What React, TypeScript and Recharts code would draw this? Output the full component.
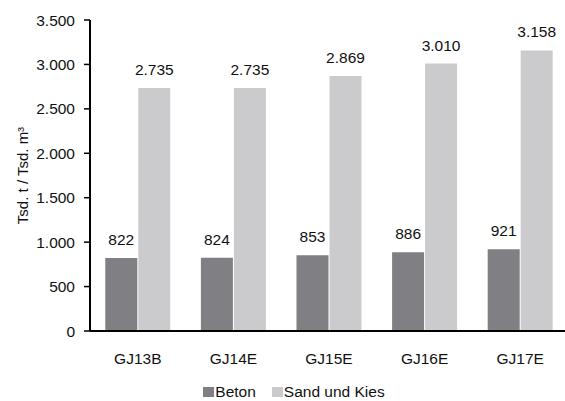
import React from "react";
import {
  BarChart,
  Bar,
  XAxis,
  YAxis,
  Legend,
  LabelList,
  Label,
} from "recharts";

// Jahresmengen je Szenario (Tsd. t / Tsd. m³)
const categories = ["GJ13B", "GJ14E", "GJ15E", "GJ16E", "GJ17E"];
const betonValues = [822, 824, 853, 886, 921];
const sandKiesValues = [2735, 2735, 2869, 3010, 3158];
const yTicks = [0, 500, 1000, 1500, 2000, 2500, 3000, 3500];
const edgeTicks = [0, 1, 2, 3, 4, 5];

const data = categories.map((name, i) => ({
  name,
  beton: betonValues[i],
  sandKies: sandKiesValues[i],
}));

const DARK = "#7f7f84";
const LIGHT = "#cbcbcd";
const FONT = "'Liberation Sans', Arial, sans-serif";

// German thousands separator: 3500 -> "3.500"
const fmt = (v: number) => String(v).replace(/\B(?=(\d{3})+(?!\d))/g, ".");

const legendItems = [
  { label: "Beton", color: DARK },
  { label: "Sand und Kies", color: LIGHT },
];

const LegendContent = () => (
  <div
    style={{
      display: "flex",
      justifyContent: "center",
      alignItems: "center",
      fontFamily: FONT,
      fontSize: 15.5,
      color: "#111",
      height: 40,
      paddingTop: 22,
      boxSizing: "border-box",
    }}
  >
    {legendItems.map((it, i) => (
      <div
        key={it.label}
        style={{ display: "flex", alignItems: "center", marginLeft: i ? 16 : 0 }}
      >
        <span
          style={{
            display: "inline-block",
            width: 11,
            height: 10,
            background: it.color,
            marginRight: 1,
          }}
        />
        <span>{it.label}</span>
      </div>
    ))}
  </div>
);

const YLabel = (props: any) => {
  const vb = props.viewBox || {};
  const cx = 22;
  const cy = (vb.y ?? 20) + (vb.height ?? 311) / 2;
  return (
    <text
      x={cx}
      y={cy}
      transform={`rotate(-90, ${cx}, ${cy})`}
      textAnchor="middle"
      dominantBaseline="central"
      fontFamily={FONT}
      fontSize={15}
      fill="#111"
    >
      Tsd. t / Tsd. m³
    </text>
  );
};

export default function App() {
  return (
    <div
      style={{
        position: "absolute",
        left: 0,
        top: 0,
        width: 565,
        height: 401,
        overflow: "hidden",
        background: "#fff",
      }}
    >
      <BarChart
        width={570}
        height={401}
        data={data}
        margin={{ top: 20, right: 2, left: 20, bottom: 0 }}
        barCategoryGap="16%"
        barGap={1}
      >
        <XAxis
          xAxisId="edge"
          type="number"
          domain={[0, 5]}
          ticks={edgeTicks}
          tick={false}
          axisLine={false}
          tickLine={{ stroke: "#000", strokeWidth: 1.5 }}
          tickSize={5}
          height={0}
          allowDataOverflow
        />
        <XAxis
          dataKey="name"
          axisLine={{ stroke: "#000", strokeWidth: 2 }}
          tickLine={false}
          tick={{ fill: "#111", fontSize: 15.5, fontFamily: FONT }}
          tickMargin={16}
          height={30}
          interval={0}
        />
        <YAxis
          domain={[0, 3500]}
          ticks={yTicks}
          tickFormatter={fmt}
          width={70}
          axisLine={{ stroke: "#000", strokeWidth: 2 }}
          tickLine={{ stroke: "#000", strokeWidth: 1.5 }}
          tickSize={6}
          tickMargin={9}
          tick={{ fill: "#111", fontSize: 15.5, fontFamily: FONT }}
        >
          <Label content={<YLabel />} />
        </YAxis>
        <Legend
          verticalAlign="bottom"
          content={<LegendContent />}
          wrapperStyle={{ height: 40 }}
        />
        <Bar dataKey="beton" name="Beton" fill={DARK} isAnimationActive={false}>
          <LabelList
            dataKey="beton"
            position="top"
            offset={13}
            formatter={(v: any) => fmt(Number(v))}
            style={{ fill: "#111", fontSize: 15.5, fontFamily: FONT }}
          />
        </Bar>
        <Bar
          dataKey="sandKies"
          name="Sand und Kies"
          fill={LIGHT}
          isAnimationActive={false}
        >
          <LabelList
            dataKey="sandKies"
            position="top"
            offset={13}
            formatter={(v: any) => fmt(Number(v))}
            style={{ fill: "#111", fontSize: 15.5, fontFamily: FONT }}
          />
        </Bar>
      </BarChart>
    </div>
  );
}
